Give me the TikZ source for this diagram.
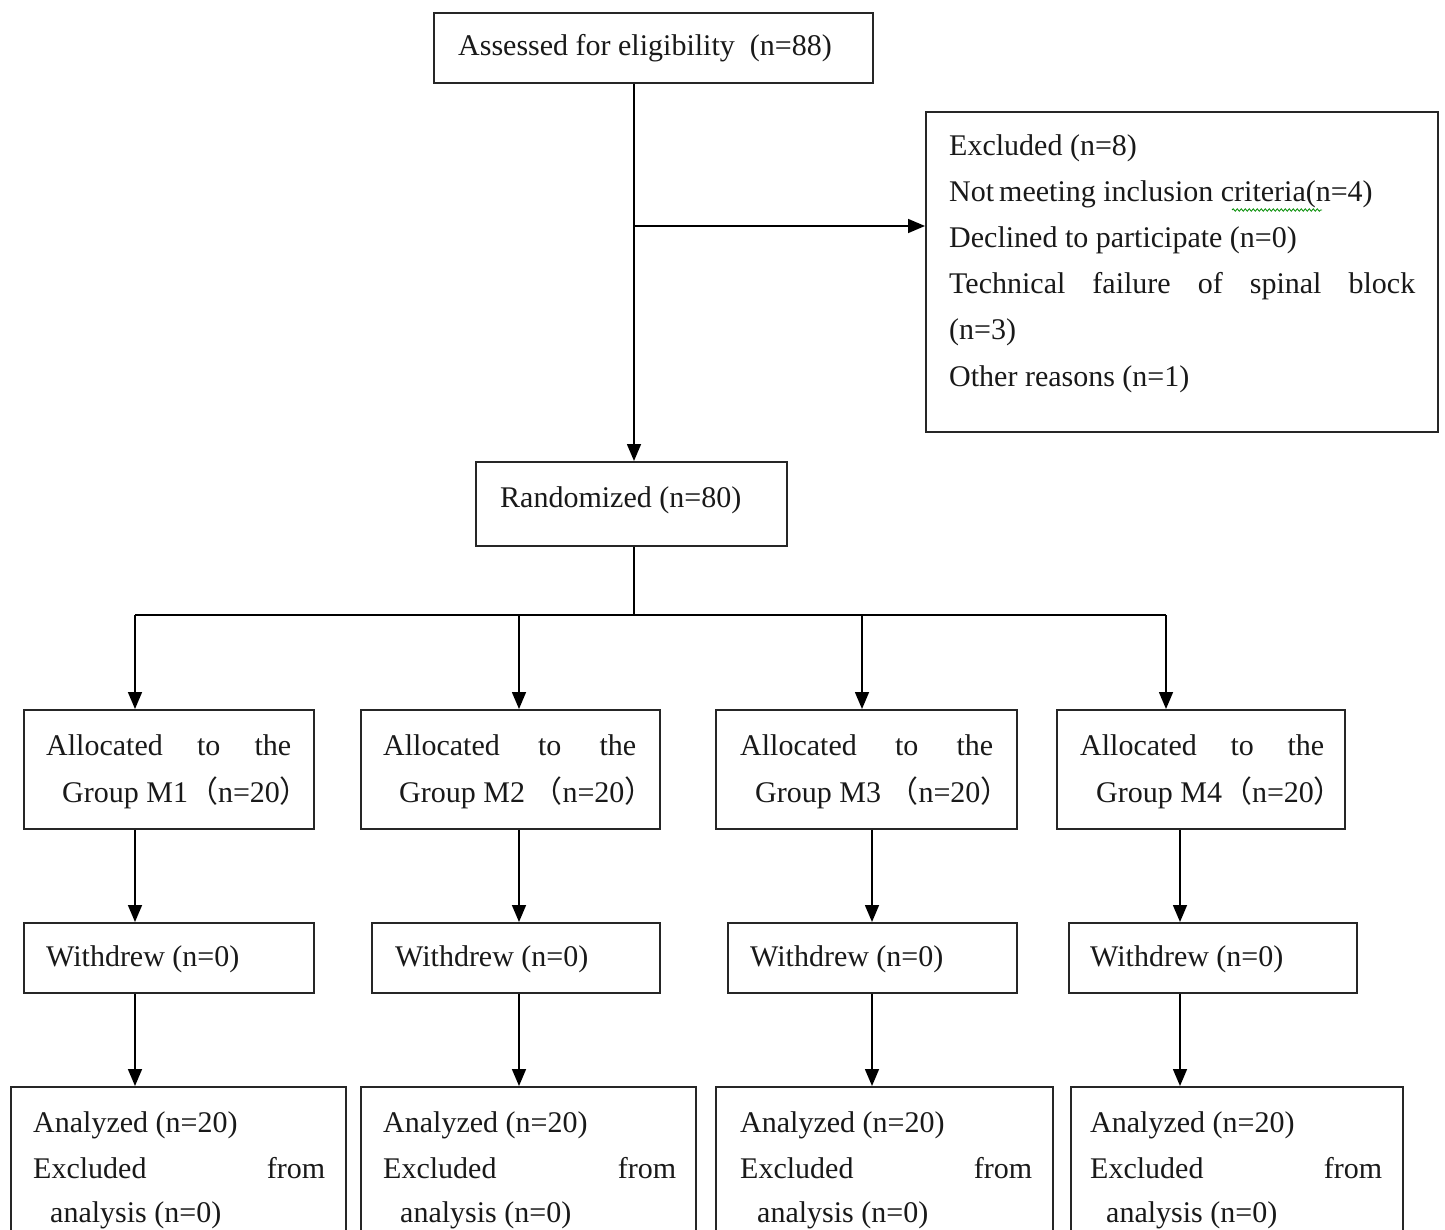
\documentclass[tikz,border=0pt]{standalone}
\usepackage{fontspec}
\setmainfont{Liberation Serif}
\newfontfamily\cjkfont{Noto Sans CJK SC}
\usetikzlibrary{arrows.meta,decorations.pathmorphing}
\newcommand\fwl{{\cjkfont （}}
\newcommand\fwr{{\cjkfont ）}}
\begin{document}
\begin{tikzpicture}[x=1pt,y=-1pt,
  box/.style={draw=black!85, line width=1.6pt, rectangle, inner sep=0pt, anchor=north west},
  txt/.style={anchor=base west, inner sep=0pt, font=\fontsize{30}{46}\selectfont, text=black!90},
  conn/.style={line width=1.6pt, draw=black},
  arr/.style={conn, -{Triangle[length=17pt,width=14pt]}}]
\path[use as bounding box, clip] (0,0) rectangle (1445,1230);
\fill[white] (0,0) rectangle (1445,1230);

% boxes
\node[box, minimum width=439pt, minimum height=70pt] (assess) at (433,12) {};
\node[box, minimum width=512pt, minimum height=320pt] (excl) at (925,111) {};
\node[box, minimum width=311pt, minimum height=84pt] (rand) at (475,461) {};
\node[box, minimum width=290pt, minimum height=119pt] (a1) at (23,709) {};
\node[box, minimum width=299pt, minimum height=119pt] (a2) at (360,709) {};
\node[box, minimum width=301pt, minimum height=119pt] (a3) at (715,709) {};
\node[box, minimum width=288pt, minimum height=119pt] (a4) at (1056,709) {};
\node[box, minimum width=290pt, minimum height=70pt] (w1) at (23,922) {};
\node[box, minimum width=288pt, minimum height=70pt] (w2) at (371,922) {};
\node[box, minimum width=289pt, minimum height=70pt] (w3) at (727,922) {};
\node[box, minimum width=288pt, minimum height=70pt] (w4) at (1068,922) {};
\node[box, minimum width=335pt, minimum height=200pt] (n1) at (10,1086) {};
\node[box, minimum width=335pt, minimum height=200pt] (n2) at (360,1086) {};
\node[box, minimum width=337pt, minimum height=200pt] (n3) at (715,1086) {};
\node[box, minimum width=332pt, minimum height=200pt] (n4) at (1070,1086) {};

% texts
\node[txt] (t-assess) at (458,56) {Assessed for eligibility\ \ (n=88)};
\node[txt] (t-ex1) at (949,156) {Excluded (n=8)};
\node[txt] (t-ex2) at (949,202) {Not\,meeting inclusion criteria(n=4)};
\node[txt] (t-ex3) at (949,248) {Declined to participate (n=0)};
\node[txt] (t-ex4) at (949,294) {\hbox to 466pt{Technical\hfill failure\hfill of\hfill spinal\hfill block}};
\node[txt] (t-ex5) at (949,340) {(n=3)};
\node[txt] (t-ex6) at (949,386) {Other reasons (n=1)};
\draw[green!55!black, line width=0.8pt, decorate, decoration={snake, segment length=4pt, amplitude=1.2pt}] (t-ex2.base west) ++(283,8) -- ++(90,0);
\node[txt] (t-rand) at (500,507) {Randomized (n=80)};

\node[txt] (t-a1a) at (46,755) {\hbox to 245pt{Allocated\hfill to\hfill the}};
\node[txt] (t-a1b) at (62,802) {Group M1\fwl n=20\fwr};
\node[txt] (t-a2a) at (383,755) {\hbox to 253pt{Allocated\hfill to\hfill the}};
\node[txt] (t-a2b) at (399,802) {Group M2 \fwl n=20\fwr};
\node[txt] (t-a3a) at (740,755) {\hbox to 253pt{Allocated\hfill to\hfill the}};
\node[txt] (t-a3b) at (755,802) {Group M3 \fwl n=20\fwr};
\node[txt] (t-a4a) at (1080,755) {\hbox to 244pt{Allocated\hfill to\hfill the}};
\node[txt] (t-a4b) at (1096,802) {Group M4\fwl n=20\fwr};

\node[txt] (t-w1) at (46,966) {Withdrew (n=0)};
\node[txt] (t-w2) at (395,966) {Withdrew (n=0)};
\node[txt] (t-w3) at (750,966) {Withdrew (n=0)};
\node[txt] (t-w4) at (1090,966) {Withdrew (n=0)};

\node[txt] (t-n1a) at (33,1132) {Analyzed (n=20)};
\node[txt] (t-n1b) at (33,1178) {\hbox to 292pt{Excluded\hfill from}};
\node[txt] (t-n1c) at (50,1222) {analysis (n=0)};
\node[txt] (t-n2a) at (383,1132) {Analyzed (n=20)};
\node[txt] (t-n2b) at (383,1178) {\hbox to 293pt{Excluded\hfill from}};
\node[txt] (t-n2c) at (400,1222) {analysis (n=0)};
\node[txt] (t-n3a) at (740,1132) {Analyzed (n=20)};
\node[txt] (t-n3b) at (740,1178) {\hbox to 292pt{Excluded\hfill from}};
\node[txt] (t-n3c) at (757,1222) {analysis (n=0)};
\node[txt] (t-n4a) at (1090,1132) {Analyzed (n=20)};
\node[txt] (t-n4b) at (1090,1178) {\hbox to 292pt{Excluded\hfill from}};
\node[txt] (t-n4c) at (1106,1222) {analysis (n=0)};

% connectors
\coordinate (spine) at (634,0);
\coordinate (br) at (634,226);
\coordinate (split) at (634,615);
\draw[arr] (assess.south -| spine) -- (rand.north -| spine);
\draw[arr] (br) -- (excl.west |- br);
\draw[conn] (rand.south -| spine) -- (split);
\coordinate (k1) at (135,615);
\coordinate (k2) at (519,615);
\coordinate (k3) at (862,615);
\coordinate (k4) at (1166,615);
\draw[conn] (k1) -- (k4);
\draw[arr] (k1) -- (a1.north -| k1);
\draw[arr] (k2) -- (a2.north -| k2);
\draw[arr] (k3) -- (a3.north -| k3);
\draw[arr] (k4) -- (a4.north -| k4);
\coordinate (m1) at (135,0);
\coordinate (m2) at (519,0);
\coordinate (m3) at (872,0);
\coordinate (m4) at (1180,0);
\draw[arr] (a1.south -| m1) -- (w1.north -| m1);
\draw[arr] (a2.south -| m2) -- (w2.north -| m2);
\draw[arr] (a3.south -| m3) -- (w3.north -| m3);
\draw[arr] (a4.south -| m4) -- (w4.north -| m4);
\draw[arr] (w1.south -| m1) -- (n1.north -| m1);
\draw[arr] (w2.south -| m2) -- (n2.north -| m2);
\draw[arr] (w3.south -| m3) -- (n3.north -| m3);
\draw[arr] (w4.south -| m4) -- (n4.north -| m4);
\end{tikzpicture}
\end{document}
